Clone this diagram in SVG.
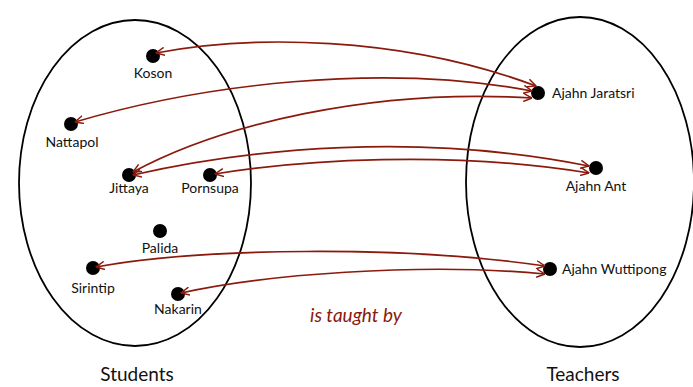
<svg xmlns="http://www.w3.org/2000/svg" width="693" height="387" viewBox="0 0 693 387">
  <style>
    .set { fill: none; stroke: #000; stroke-width: 1.8; }
    .dot { fill: #000; }
    .lbl { font-family: Lato, "Open Sans", sans-serif; font-size: 14px; fill: #111; }
    .title { font-family: Lato, "Open Sans", sans-serif; font-size: 19px; fill: #111; text-anchor: middle; }
    .rel { fill: none; stroke: #8b1a0c; stroke-width: 1.7; marker-start: url(#head); marker-end: url(#head); }
    .caption { font-family: Lato, "Open Sans", sans-serif; font-size: 19px; font-style: italic; fill: #8b1a0c; text-anchor: middle; }
  </style>
  <defs>
    <marker id="head" viewBox="0 0 10 10" refX="9.5" refY="5" markerWidth="9" markerHeight="9" markerUnits="userSpaceOnUse" orient="auto-start-reverse">
      <path d="M0,0.5 L9.5,5 L0,9.5" fill="none" stroke="#8b1a0c" stroke-width="1.6"/>
    </marker>
  </defs>

  <rect width="693" height="387" fill="#fff"/>

  <!-- the two sets -->
  <g id="students-set">
    <ellipse class="set" cx="135" cy="183" rx="116" ry="163"/>
    <text class="title" x="137" y="381">Students</text>
  </g>
  <g id="teachers-set">
    <ellipse class="set" cx="580" cy="182" rx="114" ry="165"/>
    <text class="title" x="583" y="381">Teachers</text>
  </g>

  <!-- students -->
  <g id="koson"><circle class="dot" cx="153" cy="56" r="7"/><text class="lbl" x="153" y="78" text-anchor="middle">Koson</text></g>
  <g id="nattapol"><circle class="dot" cx="71" cy="124" r="7"/><text class="lbl" x="72" y="147" text-anchor="middle">Nattapol</text></g>
  <g id="jittaya"><circle class="dot" cx="129" cy="175" r="7"/><text class="lbl" x="129" y="193" text-anchor="middle">Jittaya</text></g>
  <g id="pornsupa"><circle class="dot" cx="210" cy="175" r="7"/><text class="lbl" x="210" y="193" text-anchor="middle">Pornsupa</text></g>
  <g id="palida"><circle class="dot" cx="160" cy="231" r="7"/><text class="lbl" x="160" y="253" text-anchor="middle">Palida</text></g>
  <g id="sirintip"><circle class="dot" cx="93" cy="268" r="7"/><text class="lbl" x="93" y="293" text-anchor="middle">Sirintip</text></g>
  <g id="nakarin"><circle class="dot" cx="178" cy="294" r="7"/><text class="lbl" x="178" y="314" text-anchor="middle">Nakarin</text></g>

  <!-- teachers -->
  <g id="ajahn-jaratsri"><circle class="dot" cx="538" cy="93" r="7"/><text class="lbl" x="552" y="98">Ajahn Jaratsri</text></g>
  <g id="ajahn-ant"><circle class="dot" cx="596" cy="168" r="7"/><text class="lbl" x="596" y="191" text-anchor="middle">Ajahn Ant</text></g>
  <g id="ajahn-wuttipong"><circle class="dot" cx="550" cy="269" r="7"/><text class="lbl" x="562" y="274">Ajahn Wuttipong</text></g>

  <!-- "is taught by" links -->
  <g id="connectors">
    <path class="rel" d="M156 53 C250 35, 400 35, 536 86"/>
    <path class="rel" d="M75 122 C200 85, 380 62, 532 91"/>
    <path class="rel" d="M133 172 C220 125, 370 88, 532 98"/>
    <path class="rel" d="M133 175 C250 148, 420 132, 589 166"/>
    <path class="rel" d="M215 174 C300 160, 450 150, 589 173"/>
    <path class="rel" d="M96 267 C200 248, 400 245, 545 266"/>
    <path class="rel" d="M181 293 C260 275, 420 262, 545 274"/>
    <text class="caption" x="356" y="322">is taught by</text>
  </g>
</svg>
